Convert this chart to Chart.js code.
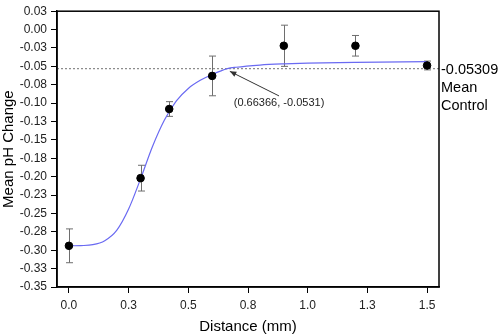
<!DOCTYPE html>
<html>
<head>
<meta charset="utf-8">
<script src="https://cdn.jsdelivr.net/npm/chart.js@4.4.0/dist/chart.umd.min.js"></script>
<style>
  html, body { margin: 0; padding: 0; background: #fff; }
  #wrap { width: 504px; height: 336px; }
</style>
</head>
<body>
<div id="wrap"><canvas id="chart"></canvas></div>
<script>
// ===== Data =====
const distance = [0, 0.3, 0.42, 0.6, 0.9, 1.2, 1.5];
const meanChange = [-0.294, -0.202, -0.108, -0.063, -0.022, -0.022, -0.0488];
const errors = [0.023, 0.0175, 0.010, 0.027, 0.028, 0.014, 0.006];

// fitted curve
const fitX = [0, 0.05, 0.1, 0.15, 0.2, 0.25, 0.3, 0.35, 0.4, 0.45, 0.5, 0.55, 0.6, 0.66366, 0.7, 0.8, 0.9, 1.0, 1.2, 1.5];
const fitY = [-0.294, -0.2937, -0.2925, -0.287, -0.273, -0.244, -0.203, -0.159, -0.123, -0.097, -0.080, -0.069, -0.061, -0.0531, -0.0512, -0.0482, -0.0466, -0.0456, -0.0445, -0.0435];

const meanControl = -0.05309;
const controlLabels = ["-0.05309", "Mean", "Control"];

const annotationText = "(0.66366, -0.0531)";
const arrowFrom = [0.88, -0.0902];
const arrowTo = [0.674, -0.0568];

const xTicks = [0, 0.25, 0.5, 0.75, 1.0, 1.25, 1.5];
const xTickLabels = ["0.0", "0.3", "0.5", "0.8", "1.0", "1.3", "1.5"];
const yTicks = [0.025, 0, -0.025, -0.05, -0.075, -0.1, -0.125, -0.15, -0.175, -0.2, -0.225, -0.25, -0.275, -0.3, -0.325, -0.35];
const yTickLabels = ["0.03", "0.00", "-0.03", "-0.05", "-0.08", "-0.10", "-0.13", "-0.15", "-0.18", "-0.20", "-0.23", "-0.25", "-0.28", "-0.30", "-0.33", "-0.35"];

const xMin = -0.05, xMax = 1.55;
const yMin = -0.35, yMax = 0.025;

const FONT = "'Liberation Sans', Arial, sans-serif";

// ===== Plugins =====
const extras = {
  id: "extras",
  beforeDatasetsDraw(chart) {
    const { ctx, scales: { x, y } } = chart;
    // error bars
    ctx.save();
    ctx.strokeStyle = "#6e6e6e";
    ctx.lineWidth = 1;
    distance.forEach((d, i) => {
      const px = Math.round(x.getPixelForValue(d)) + 0.5;
      const top = y.getPixelForValue(meanChange[i] + errors[i]);
      const bot = y.getPixelForValue(meanChange[i] - errors[i]);
      ctx.beginPath();
      ctx.moveTo(px, top); ctx.lineTo(px, bot);
      ctx.moveTo(px - 3.5, top); ctx.lineTo(px + 3.5, top);
      ctx.moveTo(px - 3.5, bot); ctx.lineTo(px + 3.5, bot);
      ctx.stroke();
    });
    ctx.restore();
  },
  afterDraw(chart) {
    const { ctx, chartArea: a, scales: { x, y } } = chart;
    ctx.save();
    // frame
    ctx.strokeStyle = "#000";
    ctx.lineWidth = 1.5;
    ctx.strokeRect(a.left, a.top, a.right - a.left, a.bottom - a.top);

    // right labels
    ctx.fillStyle = "#000";
    ctx.font = "14.5px " + FONT;
    ctx.textAlign = "left";
    ctx.textBaseline = "middle";
    const yc = y.getPixelForValue(meanControl);
    controlLabels.forEach((t, i) => ctx.fillText(t, a.right + 2, yc + 1 + i * 18));

    // arrow
    const x1 = x.getPixelForValue(arrowFrom[0]), y1 = y.getPixelForValue(arrowFrom[1]);
    const x2 = x.getPixelForValue(arrowTo[0]), y2 = y.getPixelForValue(arrowTo[1]);
    ctx.strokeStyle = "#333";
    ctx.fillStyle = "#333";
    ctx.lineWidth = 1;
    ctx.beginPath();
    ctx.moveTo(x1, y1); ctx.lineTo(x2, y2);
    ctx.stroke();
    const ang = Math.atan2(y2 - y1, x2 - x1);
    ctx.beginPath();
    ctx.moveTo(x2, y2);
    ctx.lineTo(x2 - 7 * Math.cos(ang - 0.4), y2 - 7 * Math.sin(ang - 0.4));
    ctx.lineTo(x2 - 7 * Math.cos(ang + 0.4), y2 - 7 * Math.sin(ang + 0.4));
    ctx.closePath();
    ctx.fill();

    ctx.fillStyle = "#222";
    ctx.font = "11px " + FONT;
    ctx.textAlign = "center";
    ctx.textBaseline = "top";
    ctx.fillText(annotationText, x1, y1 + 2);
    ctx.restore();
  }
};

// ===== Chart =====
new Chart(document.getElementById("chart"), {
  type: "scatter",
  data: {
    datasets: [
      {
        label: "data",
        data: distance.map((d, i) => ({ x: d, y: meanChange[i] })),
        backgroundColor: "#000",
        borderColor: "#000",
        pointRadius: 3.8,
        pointHoverRadius: 3.8,
        order: 0
      },
      {
        label: "fit",
        type: "line",
        data: fitX.map((d, i) => ({ x: d, y: fitY[i] })),
        borderColor: "#6a6af2",
        borderWidth: 1.2,
        pointRadius: 0,
        cubicInterpolationMode: "monotone",
        fill: false,
        order: 1
      },
      {
        label: "control",
        type: "line",
        data: [{ x: xMin, y: meanControl }, { x: xMax, y: meanControl }],
        borderColor: "#8c8c8c",
        borderWidth: 1.2,
        borderDash: [2, 2],
        pointRadius: 0,
        fill: false,
        order: 2
      }
    ]
  },
  options: {
    responsive: true,
    maintainAspectRatio: false,
    animation: false,
    layout: { padding: { left: 0, right: 65, top: 7, bottom: 0 } },
    plugins: { legend: { display: false }, tooltip: { enabled: false } },
    scales: {
      x: {
        type: "linear",
        min: xMin,
        max: xMax,
        afterBuildTicks: s => { s.ticks = xTicks.map(v => ({ value: v })); },
        afterFit: s => { s.height = 49; },
        grid: { display: true, drawOnChartArea: false, drawTicks: true, tickLength: 6, color: "#000", lineWidth: 1 },
        border: { display: true, color: "#000", width: 1.5 },
        ticks: {
          padding: 5,
          color: "#222",
          font: { family: FONT, size: 12 },
          maxRotation: 0,
          callback: (v, i) => xTickLabels[i]
        },
        title: { display: true, text: "Distance (mm)", color: "#000", font: { family: FONT, size: 15 }, padding: { top: 0, bottom: 0 } }
      },
      y: {
        type: "linear",
        min: yMin,
        max: yMax,
        afterBuildTicks: s => { s.ticks = yTicks.map(v => ({ value: v })); },
        afterFit: s => { s.width = 57; },
        grid: { display: true, drawOnChartArea: false, drawTicks: true, tickLength: 6, color: "#000", lineWidth: 1 },
        border: { display: true, color: "#000", width: 1.5 },
        ticks: {
          padding: 4,
          color: "#222",
          font: { family: FONT, size: 12 },
          autoSkip: false,
          callback: (v, i) => yTickLabels[i]
        },
        title: { display: true, text: "Mean pH Change", color: "#000", font: { family: FONT, size: 15 }, padding: { top: 0, bottom: 0 } }
      }
    }
  },
  plugins: [extras]
});
</script>
</body>
</html>
